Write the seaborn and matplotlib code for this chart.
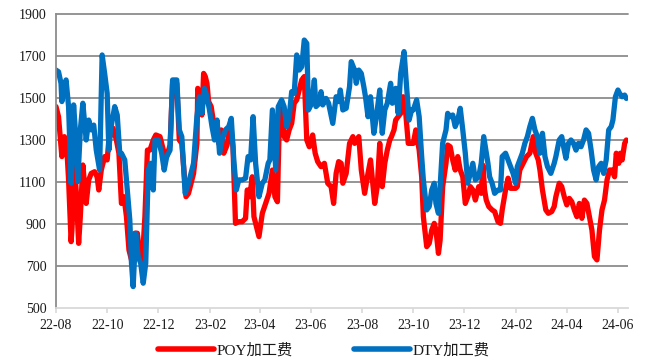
import matplotlib
matplotlib.use("Agg")
import matplotlib.pyplot as plt
import matplotlib.dates as mdates
from matplotlib.lines import Line2D
import pandas as pd
import seaborn as sns

# ---- data -------------------------------------------------------------
poy_label = "POY加工费"
dty_label = "DTY加工费"

poy_dates = [
    "2022-08-01", "2022-08-04", "2022-08-06", "2022-08-08", "2022-08-11", "2022-08-14", "2022-08-16",
    "2022-08-19", "2022-08-20", "2022-08-23", "2022-08-25", "2022-08-28", "2022-08-30",
    "2022-09-02", "2022-09-06", "2022-09-09", "2022-09-12", "2022-09-16", "2022-09-19", "2022-09-21",
    "2022-09-24", "2022-09-28",
    "2022-10-01", "2022-10-03", "2022-10-08", "2022-10-12", "2022-10-15", "2022-10-18", "2022-10-21",
    "2022-10-24", "2022-10-27", "2022-10-31",
    "2022-11-03", "2022-11-06", "2022-11-09", "2022-11-12", "2022-11-15", "2022-11-18", "2022-11-21",
    "2022-11-25", "2022-11-28",
    "2022-12-03", "2022-12-07", "2022-12-11", "2022-12-15", "2022-12-18", "2022-12-23", "2022-12-26",
    "2022-12-29",
    "2023-01-03", "2023-01-06", "2023-01-12", "2023-01-16", "2023-01-17", "2023-01-20", "2023-01-22",
    "2023-01-24", "2023-01-26", "2023-01-28", "2023-01-30",
    "2023-02-02", "2023-02-05", "2023-02-08", "2023-02-11", "2023-02-14", "2023-02-17", "2023-02-21",
    "2023-02-25", "2023-02-28",
    "2023-03-03", "2023-03-07", "2023-03-11", "2023-03-15", "2023-03-17", "2023-03-20", "2023-03-23",
    "2023-03-25", "2023-03-29", "2023-03-31",
    "2023-04-04", "2023-04-08", "2023-04-12", "2023-04-16", "2023-04-19", "2023-04-22", "2023-04-24",
    "2023-04-27", "2023-04-30",
    "2023-05-03", "2023-05-06", "2023-05-09", "2023-05-12", "2023-05-15", "2023-05-18", "2023-05-21",
    "2023-05-24", "2023-05-27", "2023-05-30",
    "2023-06-03", "2023-06-06", "2023-06-09", "2023-06-13", "2023-06-17", "2023-06-21", "2023-06-25",
    "2023-06-28",
    "2023-07-01", "2023-07-04", "2023-07-07", "2023-07-09", "2023-07-13", "2023-07-17", "2023-07-21",
    "2023-07-23", "2023-07-28", "2023-07-31",
    "2023-08-04", "2023-08-08", "2023-08-11", "2023-08-16", "2023-08-19", "2023-08-22", "2023-08-25",
    "2023-08-28", "2023-08-31",
    "2023-09-03", "2023-09-05", "2023-09-08", "2023-09-10", "2023-09-13", "2023-09-16", "2023-09-19",
    "2023-09-22", "2023-09-25", "2023-09-29",
    "2023-10-01", "2023-10-04", "2023-10-08", "2023-10-11", "2023-10-13", "2023-10-17", "2023-10-20",
    "2023-10-23", "2023-10-26", "2023-10-28", "2023-10-31",
    "2023-11-02", "2023-11-05", "2023-11-09", "2023-11-11", "2023-11-14", "2023-11-17", "2023-11-20",
    "2023-11-23", "2023-11-26", "2023-11-29",
    "2023-12-02", "2023-12-05", "2023-12-08", "2023-12-11", "2023-12-14", "2023-12-18", "2023-12-21",
    "2023-12-23", "2023-12-25", "2023-12-27", "2023-12-30",
    "2024-01-03", "2024-01-06", "2024-01-10", "2024-01-13", "2024-01-15", "2024-01-19", "2024-01-22",
    "2024-01-25", "2024-01-31",
    "2024-02-02", "2024-02-05", "2024-02-09", "2024-02-13", "2024-02-17", "2024-02-21", "2024-02-24",
    "2024-02-27", "2024-02-29",
    "2024-03-03", "2024-03-07", "2024-03-10", "2024-03-14", "2024-03-17", "2024-03-19", "2024-03-23",
    "2024-03-26", "2024-03-29",
    "2024-04-01", "2024-04-04", "2024-04-07", "2024-04-10", "2024-04-13", "2024-04-16", "2024-04-19",
    "2024-04-22", "2024-04-25", "2024-04-28",
    "2024-05-01", "2024-05-04", "2024-05-07", "2024-05-10", "2024-05-13", "2024-05-16", "2024-05-19",
    "2024-05-22", "2024-05-25", "2024-05-28", "2024-05-30",
    "2024-06-02", "2024-06-04", "2024-06-06", "2024-06-09", "2024-06-11",
]
poy_values = [
    1459, 1411, 1316, 1221, 1316, 1252, 1110, 816, 872, 1173, 1062, 808, 935,
    1181, 998, 1110, 1141, 1149, 1125, 1062, 1157, 1221,
    1205, 1300, 1356, 1300, 1237, 998, 1030, 935, 776, 713,
    856, 856, 745, 729, 935, 1252, 1252, 1300, 1324,
    1316, 1252, 1221, 1276, 1570, 1570, 1300, 1284,
    1030, 1046, 1140, 1284, 1546, 1506, 1419, 1617, 1602, 1570, 1483,
    1459, 1379, 1387, 1284, 1348, 1237, 1276, 1379, 1268,
    903, 911, 911, 927, 1062, 1030, 1125, 935, 871, 840,
    951, 998, 1046, 1157, 1030, 1006, 1348, 1475, 1316,
    1300, 1348, 1379, 1475, 1491, 1538, 1586, 1602, 1300, 1268,
    1324, 1237, 1197, 1173, 1189, 1094, 1078, 998,
    1141, 1197, 1189, 1094, 1141, 1284, 1316, 1284, 1316, 1157,
    1046, 1141, 1205, 998, 1078, 1284, 1078, 1189, 1252,
    1300, 1316, 1348, 1395, 1411, 1427, 1506, 1427, 1284, 1284,
    1284, 1348, 1252, 1125, 935, 792, 808, 871, 903, 871, 760,
    824, 1078, 1189, 1276, 1268, 1205, 1157, 1221, 1157, 1125,
    998, 1030, 1078, 1062, 1014, 1078, 1046, 1180, 1062, 1014, 983,
    967, 959, 911, 903, 967, 1062, 1118, 1070, 1070,
    1078, 1157, 1189, 1221, 1237, 1316, 1237, 1205, 1157,
    1062, 967, 951, 959, 983, 1030, 1094, 1078, 1030,
    991, 1022, 1006, 967, 935, 998, 927, 1014, 998, 935,
    871, 745, 729, 871, 967, 1014, 1110, 1157, 1157, 1125, 1237,
    1189, 1237, 1205, 1284, 1300,
]

dty_dates = [
    "2022-08-01", "2022-08-04", "2022-08-07", "2022-08-08", "2022-08-10", "2022-08-13", "2022-08-16",
    "2022-08-19", "2022-08-22", "2022-08-24", "2022-08-27", "2022-08-30",
    "2022-09-02", "2022-09-06", "2022-09-09", "2022-09-12", "2022-09-15", "2022-09-18", "2022-09-22",
    "2022-09-25", "2022-09-28",
    "2022-10-01", "2022-10-03", "2022-10-05", "2022-10-10", "2022-10-13", "2022-10-16", "2022-10-18",
    "2022-10-22", "2022-10-25", "2022-10-28", "2022-10-30",
    "2022-11-01", "2022-11-04", "2022-11-07", "2022-11-10", "2022-11-13", "2022-11-16", "2022-11-19",
    "2022-11-22", "2022-11-25", "2022-11-27",
    "2022-12-01", "2022-12-05", "2022-12-08", "2022-12-11", "2022-12-15", "2022-12-18", "2022-12-23",
    "2022-12-26", "2022-12-29",
    "2023-01-02", "2023-01-06", "2023-01-12", "2023-01-16", "2023-01-19", "2023-01-22", "2023-01-25",
    "2023-01-28", "2023-01-31",
    "2023-02-03", "2023-02-06", "2023-02-09", "2023-02-12", "2023-02-15", "2023-02-19", "2023-02-23",
    "2023-02-26",
    "2023-03-01", "2023-03-04", "2023-03-07", "2023-03-11", "2023-03-15", "2023-03-18", "2023-03-21",
    "2023-03-24", "2023-03-27", "2023-03-31",
    "2023-04-04", "2023-04-07", "2023-04-11", "2023-04-13", "2023-04-16", "2023-04-20", "2023-04-23",
    "2023-04-27", "2023-04-30",
    "2023-05-03", "2023-05-06", "2023-05-09", "2023-05-12", "2023-05-15", "2023-05-18", "2023-05-21",
    "2023-05-24", "2023-05-27", "2023-05-29",
    "2023-06-02", "2023-06-05", "2023-06-07", "2023-06-11", "2023-06-13", "2023-06-15", "2023-06-19",
    "2023-06-22", "2023-06-27",
    "2023-07-01", "2023-07-04", "2023-07-06", "2023-07-09", "2023-07-13", "2023-07-17", "2023-07-19",
    "2023-07-23", "2023-07-25", "2023-07-28", "2023-07-31",
    "2023-08-03", "2023-08-05", "2023-08-08", "2023-08-11", "2023-08-15", "2023-08-18", "2023-08-22",
    "2023-08-25", "2023-08-28", "2023-08-31",
    "2023-09-04", "2023-09-06", "2023-09-10", "2023-09-13", "2023-09-16", "2023-09-20", "2023-09-23",
    "2023-09-26", "2023-09-29",
    "2023-10-01", "2023-10-05", "2023-10-08", "2023-10-11", "2023-10-13", "2023-10-17", "2023-10-20",
    "2023-10-23", "2023-10-26", "2023-10-28", "2023-10-31",
    "2023-11-02", "2023-11-05", "2023-11-09", "2023-11-11", "2023-11-14", "2023-11-17", "2023-11-20",
    "2023-11-23", "2023-11-26", "2023-11-29",
    "2023-12-02", "2023-12-05", "2023-12-08", "2023-12-11", "2023-12-14", "2023-12-18", "2023-12-21",
    "2023-12-24", "2023-12-29", "2023-12-31",
    "2024-01-03", "2024-01-06", "2024-01-10", "2024-01-13", "2024-01-15", "2024-01-19", "2024-01-22",
    "2024-01-25", "2024-01-28", "2024-01-31",
    "2024-02-02", "2024-02-05", "2024-02-08", "2024-02-11", "2024-02-14", "2024-02-17", "2024-02-20",
    "2024-02-23", "2024-02-26", "2024-02-29",
    "2024-03-03", "2024-03-06", "2024-03-09", "2024-03-13", "2024-03-17", "2024-03-19", "2024-03-23",
    "2024-03-26", "2024-03-29", "2024-03-31",
    "2024-04-03", "2024-04-06", "2024-04-09", "2024-04-12", "2024-04-15", "2024-04-18", "2024-04-21",
    "2024-04-24", "2024-04-27", "2024-04-30",
    "2024-05-03", "2024-05-06", "2024-05-09", "2024-05-12", "2024-05-15", "2024-05-18", "2024-05-21",
    "2024-05-24", "2024-05-26", "2024-05-29",
    "2024-06-01", "2024-06-03", "2024-06-06", "2024-06-09", "2024-06-11",
]
dty_values = [
    1633, 1625, 1570, 1483, 1554, 1586, 1459, 1094, 1467, 1348, 1102, 1348,
    1475, 1300, 1395, 1348, 1371, 1252, 1157, 1705, 1617,
    1522, 1252, 1348, 1459, 1419, 1237, 1237, 1205, 1062, 919, 713,
    602, 856, 745, 713, 618, 713, 1157, 1189, 1062, 1300,
    1300, 1237, 1157, 1221, 1252, 1586, 1586, 1348, 1316,
    1046, 1094, 1189, 1411, 1506, 1427, 1546, 1506, 1443,
    1364, 1300, 1395, 1237, 1300, 1348, 1364, 1403,
    1205, 1062, 1110, 1110, 1118, 1221, 1205, 1411, 1189, 1030,
    1094, 1110, 1189, 1205, 1443, 1157, 1459, 1491, 1459,
    1364, 1411, 1530, 1522, 1705, 1633, 1649, 1776, 1760, 1443,
    1475, 1586, 1459, 1475, 1530, 1467, 1498, 1475, 1379,
    1506, 1483, 1538, 1443, 1451, 1554, 1673, 1633, 1570, 1633, 1617,
    1554, 1506, 1411, 1506, 1332, 1411, 1538, 1332, 1443, 1475,
    1570, 1475, 1546, 1427, 1617, 1721, 1554, 1395, 1443,
    1443, 1491, 1411, 1221, 1110, 967, 983, 1062, 1094, 998, 951,
    1078, 1284, 1348, 1427, 1411, 1419, 1364, 1395, 1451, 1348,
    1237, 1094, 1141, 1189, 1110, 1125, 1189, 1316, 1189, 1125,
    1094, 1046, 1062, 1062, 1221, 1237, 1205, 1173, 1141, 1094,
    1173, 1205, 1237, 1284, 1316, 1364, 1403, 1348, 1316, 1237,
    1332, 1221, 1173, 1141, 1189, 1221, 1300, 1316, 1252, 1213,
    1284, 1300, 1284, 1252, 1284, 1268, 1300, 1348, 1332, 1252,
    1157, 1110, 1173, 1189, 1141, 1205, 1348, 1364, 1395, 1506,
    1538, 1522, 1506, 1514, 1498,
]

y_ticks = [500, 700, 900, 1100, 1300, 1500, 1700, 1900]
x_ticks = pd.date_range("2022-08-01", "2024-06-01", freq="2MS")

poy_color = "#FF0000"
dty_color = "#0070C0"

df = pd.concat([
    pd.DataFrame({"date": pd.to_datetime(poy_dates), "value": poy_values, "series": poy_label}),
    pd.DataFrame({"date": pd.to_datetime(dty_dates), "value": dty_values, "series": dty_label}),
], ignore_index=True)

# ---- figure -----------------------------------------------------------
sns.set_theme(style="white")
plt.rcParams["font.family"] = ["Liberation Serif", "Noto Sans CJK SC"]

fig = plt.figure(figsize=(6.47, 3.6), dpi=100)
ax = fig.add_axes([56 / 647, 1 - 308 / 360, (628 - 56) / 647, (308 - 14) / 360])

sns.lineplot(
    data=df, x="date", y="value", hue="series",
    hue_order=[poy_label, dty_label], palette=[poy_color, dty_color],
    estimator=None, sort=False, linewidth=3.8, legend=False, ax=ax,
)

ax.set_xlim(pd.Timestamp("2022-08-01"), pd.Timestamp("2024-06-13"))
ax.set_ylim(500, 1900)
ax.set_yticks(y_ticks)
ax.set_xticks(x_ticks)
ax.xaxis.set_major_formatter(mdates.DateFormatter("%y-%m"))
ax.set_xlabel("")
ax.set_ylabel("")

ax.yaxis.grid(True, color="#8c8c8c", linewidth=1.3)
ax.xaxis.grid(False)
ax.set_axisbelow(True)
gridlines = ax.yaxis.get_gridlines()
gridlines[0].set_visible(False)
gridlines[-1].set_clip_on(False)

for side in ("top", "right"):
    ax.spines[side].set_visible(False)
ax.spines["left"].set_color("#8c8c8c")
ax.spines["left"].set_linewidth(1.3)
ax.spines["bottom"].set_color("#d9d9d9")
ax.spines["bottom"].set_linewidth(1.3)

ax.tick_params(axis="x", direction="out", length=3.6, width=1.2, color="#d9d9d9",
               pad=4, labelsize=10, labelcolor="#1a1a1a", bottom=True)
ax.tick_params(axis="y", length=0, pad=7, labelsize=10, labelcolor="#1a1a1a")

handles = [Line2D([], [], color=poy_color, linewidth=4),
           Line2D([], [], color=dty_color, linewidth=4)]
fig.legend(handles, [poy_label, dty_label], loc="center", bbox_to_anchor=(0.5, 0.026),
           ncol=2, frameon=False, fontsize=11, handlelength=3.7, handletextpad=0.12,
           columnspacing=4.0, labelcolor="#1a1a1a")

fig.savefig("out.png", dpi=100)
